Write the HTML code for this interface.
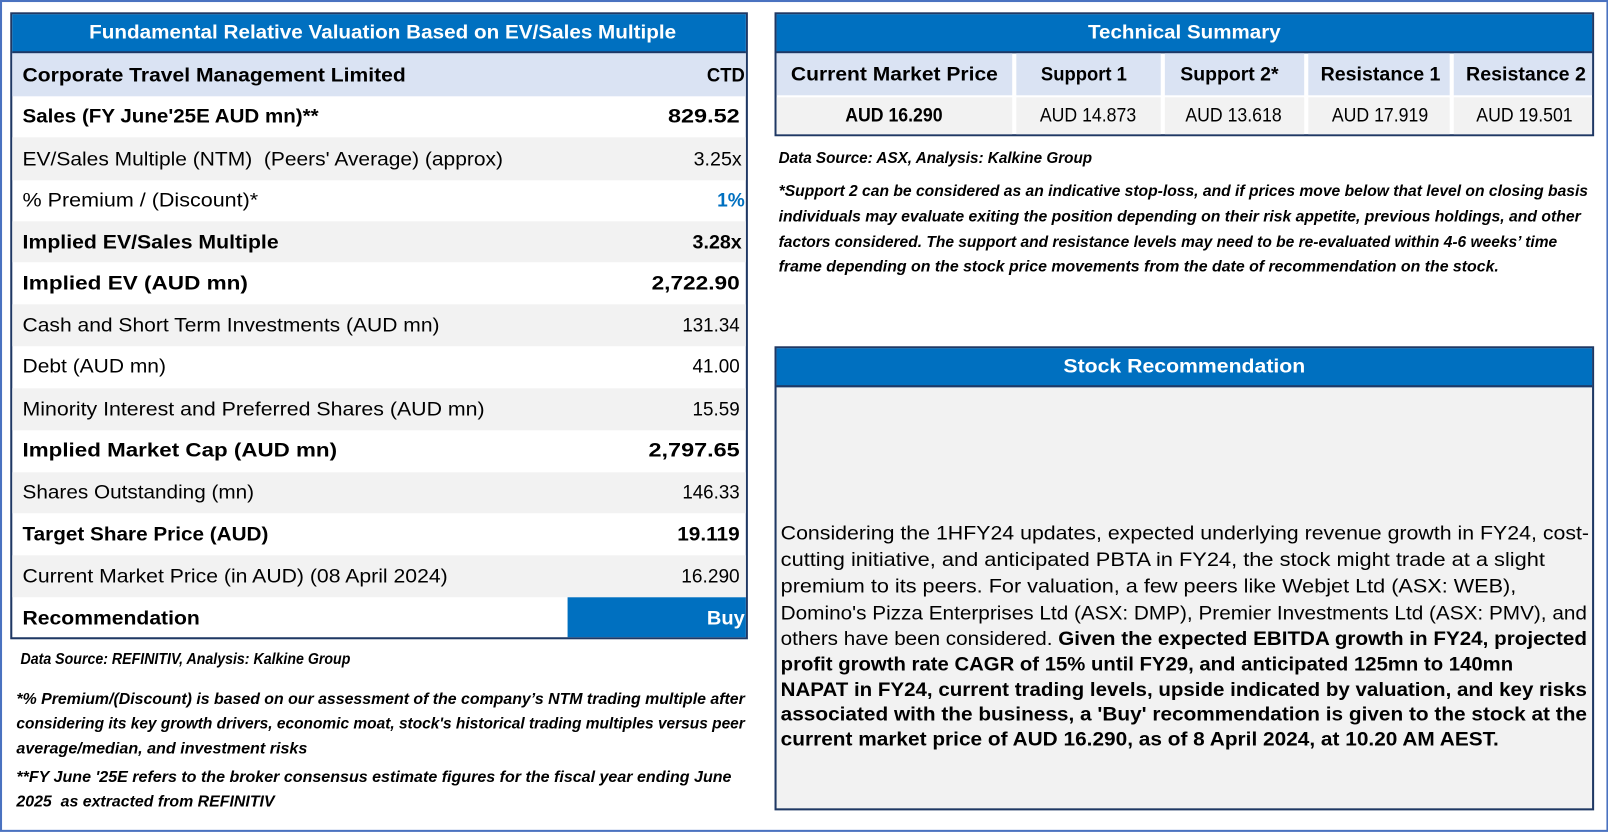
<!DOCTYPE html>
<html><head><meta charset="utf-8">
<style>
html,body{margin:0;padding:0;background:#fff;}
body{width:1608px;height:832px;overflow:hidden;position:relative;font-family:"Liberation Sans",sans-serif;color:#000;}
#wrap{position:absolute;left:0;top:0;width:1570px;height:812px;transform:scale(1.0245);transform-origin:0 0;}
.b{position:absolute;box-sizing:border-box;}
.t{position:absolute;white-space:nowrap;line-height:1;transform-origin:left center;}
.hd{color:#fff;font-weight:bold;font-size:19px;}
.r{font-size:19px;}
.bo{font-weight:bold;}
.n{font-size:15.5px;font-style:italic;}
.nb{font-size:15.5px;font-style:italic;font-weight:bold;}
.s{font-size:19px;}
</style></head><body>
<div id="wrap">
<div class="b" style="left:0;top:0;width:1570px;height:812px;border:2px solid #4a72c0;"></div>

<!-- Left table -->
<div class="b" style="left:10px;top:12px;width:720px;height:612px;border:2px solid #1f3864;background:#fff;"></div>
<div class="b" style="left:12px;top:14px;width:716px;height:38px;background:#0070c0;border-bottom:2px solid #1f3864;"></div>
<div class="b" style="left:12px;top:52px;width:716px;height:42px;background:#dae3f3;"></div>
<div class="b" style="left:12px;top:134px;width:716px;height:42px;background:#f2f2f2;"></div>
<div class="b" style="left:12px;top:216px;width:716px;height:40px;background:#f2f2f2;"></div>
<div class="b" style="left:12px;top:297px;width:716px;height:41px;background:#f2f2f2;"></div>
<div class="b" style="left:12px;top:379px;width:716px;height:41px;background:#f2f2f2;"></div>
<div class="b" style="left:12px;top:461px;width:716px;height:40px;background:#f2f2f2;"></div>
<div class="b" style="left:12px;top:542px;width:716px;height:41px;background:#f2f2f2;"></div>
<div class="b" style="left:554px;top:583px;width:174px;height:39px;background:#0070c0;"></div>

<span class="t hd" data-w="573" style="left:87px;top:32px;">Fundamental Relative Valuation Based on EV/Sales Multiple</span>
<span class="t r bo" data-w="374" style="left:22px;top:74px;">Corporate Travel Management Limited</span>
<span class="t r bo" data-w="37" style="left:690px;top:74px;">CTD</span>

<span class="t r bo" data-w="289" style="left:22px;top:114px;">Sales (FY June'25E AUD mn)**</span>
<span class="t r bo" data-w="70" style="left:652px;top:114px;">829.52</span>
<span class="t r" data-w="469" style="left:22px;top:156px;">EV/Sales Multiple (NTM)&nbsp; (Peers' Average) (approx)</span>
<span class="t r" data-w="47" style="left:677px;top:156px;">3.25x</span>
<span class="t r" data-w="230" style="left:22px;top:196px;">% Premium / (Discount)*</span>
<span class="t r bo" data-w="27" style="left:700px;top:196px;color:#0070c0;">1%</span>
<span class="t r bo" data-w="250" style="left:22px;top:237px;">Implied EV/Sales Multiple</span>
<span class="t r bo" data-w="48" style="left:676px;top:237px;">3.28x</span>
<span class="t r bo" data-w="220" style="left:22px;top:277px;">Implied EV (AUD mn)</span>
<span class="t r bo" data-w="86" style="left:636px;top:277px;">2,722.90</span>
<span class="t r" data-w="407" style="left:22px;top:318px;">Cash and Short Term Investments (AUD mn)</span>
<span class="t r" data-w="56" style="left:666px;top:318px;">131.34</span>
<span class="t r" data-w="140" style="left:22px;top:358px;">Debt (AUD mn)</span>
<span class="t r" data-w="46" style="left:676px;top:358px;">41.00</span>
<span class="t r" data-w="451" style="left:22px;top:400px;">Minority Interest and Preferred Shares (AUD mn)</span>
<span class="t r" data-w="46" style="left:676px;top:400px;">15.59</span>
<span class="t r bo" data-w="307" style="left:22px;top:440px;">Implied Market Cap (AUD mn)</span>
<span class="t r bo" data-w="89" style="left:633px;top:440px;">2,797.65</span>
<span class="t r" data-w="226" style="left:22px;top:481px;">Shares Outstanding (mn)</span>
<span class="t r" data-w="56" style="left:666px;top:481px;">146.33</span>
<span class="t r bo" data-w="240" style="left:22px;top:522px;">Target Share Price (AUD)</span>
<span class="t r bo" data-w="61" style="left:661px;top:522px;">19.119</span>
<span class="t r" data-w="415" style="left:22px;top:563px;">Current Market Price (in AUD) (08 April 2024)</span>
<span class="t r" data-w="57" style="left:665px;top:563px;">16.290</span>
<span class="t r bo" data-w="173" style="left:22px;top:604px;">Recommendation</span>
<span class="t r bo" data-w="37" style="left:690px;top:604px;color:#fff;">Buy</span>

<span class="t nb" data-w="322" style="left:20px;top:644px;">Data Source: REFINITIV, Analysis: Kalkine Group</span>
<span class="t nb" data-w="711" style="left:16px;top:683px;">*% Premium/(Discount) is based on our assessment of the company’s NTM trading multiple after</span>
<span class="t nb" data-w="711" style="left:16px;top:707px;">considering its key growth drivers, economic moat, stock's historical trading multiples versus peer</span>
<span class="t nb" data-w="284" style="left:16px;top:731px;">average/median, and investment risks</span>
<span class="t nb" data-w="698" style="left:16px;top:759px;">**FY June '25E refers to the broker consensus estimate figures for the fiscal year ending June</span>
<span class="t nb" data-w="252" style="left:16px;top:783px;">2025&nbsp; as extracted from REFINITIV</span>

<!-- Technical summary -->
<div class="b" style="left:756px;top:12px;width:800px;height:121px;border:2px solid #1f3864;background:#fff;"></div>
<div class="b" style="left:758px;top:14px;width:796px;height:38px;background:#0070c0;border-bottom:2px solid #1f3864;"></div>
<div class="b" style="left:758px;top:52px;width:230px;height:41px;background:#dae3f3;"></div>
<div class="b" style="left:992px;top:52px;width:141px;height:41px;background:#dae3f3;"></div>
<div class="b" style="left:1137px;top:52px;width:136px;height:41px;background:#dae3f3;"></div>
<div class="b" style="left:1277px;top:52px;width:138px;height:41px;background:#dae3f3;"></div>
<div class="b" style="left:1419px;top:52px;width:135px;height:41px;background:#dae3f3;"></div>
<div class="b" style="left:758px;top:95px;width:230px;height:36px;background:#f2f2f2;"></div>
<div class="b" style="left:992px;top:95px;width:141px;height:36px;background:#f2f2f2;"></div>
<div class="b" style="left:1137px;top:95px;width:136px;height:36px;background:#f2f2f2;"></div>
<div class="b" style="left:1277px;top:95px;width:138px;height:36px;background:#f2f2f2;"></div>
<div class="b" style="left:1419px;top:95px;width:135px;height:36px;background:#f2f2f2;"></div>

<span class="t hd" data-w="188" style="left:1062px;top:32px;">Technical Summary</span>
<span class="t r bo" data-w="202" style="left:772px;top:73px;">Current Market Price</span>
<span class="t r bo" data-w="84" style="left:1016px;top:73px;">Support 1</span>
<span class="t r bo" data-w="96" style="left:1152px;top:73px;">Support 2*</span>
<span class="t r bo" data-w="117" style="left:1289px;top:73px;">Resistance 1</span>
<span class="t r bo" data-w="117" style="left:1431px;top:73px;">Resistance 2</span>
<span class="t r bo" data-w="95" style="left:825px;top:113px;">AUD 16.290</span>
<span class="t r" data-w="94" style="left:1015px;top:113px;">AUD 14.873</span>
<span class="t r" data-w="94" style="left:1157px;top:113px;">AUD 13.618</span>
<span class="t r" data-w="94" style="left:1300px;top:113px;">AUD 17.919</span>
<span class="t r" data-w="94" style="left:1441px;top:113px;">AUD 19.501</span>

<span class="t nb" data-w="306" style="left:760px;top:155px;">Data Source: ASX, Analysis: Kalkine Group</span>
<span class="t nb" data-w="790" style="left:760px;top:187px;">*Support 2 can be considered as an indicative stop-loss, and if prices move below that level on closing basis</span>
<span class="t nb" data-w="783" style="left:760px;top:212px;">individuals may evaluate exiting the position depending on their risk appetite, previous holdings, and other</span>
<span class="t nb" data-w="760" style="left:760px;top:237px;">factors considered. The support and resistance levels may need to be re-evaluated within 4-6 weeks’ time</span>
<span class="t nb" data-w="703" style="left:760px;top:261px;">frame depending on the stock price movements from the date of recommendation on the stock.</span>

<!-- Stock recommendation -->
<div class="b" style="left:756px;top:338px;width:800px;height:453px;border:2px solid #1f3864;background:#f2f2f2;"></div>
<div class="b" style="left:758px;top:340px;width:796px;height:38px;background:#0070c0;border-bottom:2px solid #1f3864;"></div>
<span class="t hd" data-w="236" style="left:1038px;top:358px;">Stock Recommendation</span>

<span class="t s" data-w="789" style="left:762px;top:521px;">Considering the 1HFY24 updates, expected underlying revenue growth in FY24, cost-</span>
<span class="t s" data-w="746" style="left:762px;top:547px;">cutting initiative, and anticipated PBTA in FY24, the stock might trade at a slight</span>
<span class="t s" data-w="718" style="left:762px;top:573px;">premium to its peers. For valuation, a few peers like Webjet Ltd (ASX: WEB),</span>
<span class="t s" data-w="787" style="left:762px;top:599px;">Domino's Pizza Enterprises Ltd (ASX: DMP), Premier Investments Ltd (ASX: PMV), and</span>
<span class="t s" data-w="787" style="left:762px;top:624px;">others have been considered. <b>Given the expected EBITDA growth in FY24, projected</b></span>
<span class="t s bo" data-w="715" style="left:762px;top:649px;">profit growth rate CAGR of 15% until FY29, and anticipated 125mn to 140mn</span>
<span class="t s bo" data-w="787" style="left:762px;top:674px;">NAPAT in FY24, current trading levels, upside indicated by valuation, and key risks</span>
<span class="t s bo" data-w="787" style="left:762px;top:698px;">associated with the business, a 'Buy' recommendation is given to the stock at the</span>
<span class="t s bo" data-w="701" style="left:762px;top:722px;">current market price of AUD 16.290, as of 8 April 2024, at 10.20 AM AEST.</span>
</div>
<script>
document.querySelectorAll('.t[data-w]').forEach(function(el){
  var w=el.getBoundingClientRect().width/1.0245;
  var target=parseFloat(el.getAttribute('data-w'));
  var s=w>0?target/w:1;
  el.style.transform='translateY(-50%) scaleX('+s.toFixed(4)+')';
});
</script>
</body></html>
